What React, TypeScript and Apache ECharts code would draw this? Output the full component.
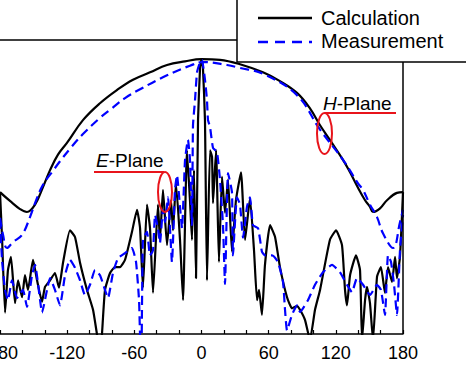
import React, { useEffect, useRef } from "react";
import * as echarts from "echarts";

// Angle in degrees, relative level in dB
const hPlaneCalc: number[][] = [
  [-180, -20.7], [-171.1, -21.9], [-162.1, -23.0], [-155.9, -23.4], [-148.7, -22.4],
  [-141.6, -20.0], [-135.3, -17.7], [-128.2, -15.6], [-120.2, -14.0], [-105.9, -10.9],
  [-90.7, -8.6], [-75.5, -6.8], [-61.2, -5.4], [-46.0, -4.4], [-30.8, -3.4],
  [-14.7, -2.9], [0, -2.6], [16.5, -2.7], [34.4, -3.3], [54.9, -4.4], [70.1, -5.6],
  [85.3, -7.2], [96.9, -9.3], [105.9, -11.6], [114.7, -13.6], [126.4, -16.3],
  [132.7, -18.0], [139.8, -20.1], [146.1, -21.8], [150.5, -22.7], [153.2, -23.4],
  [159.5, -22.9], [165.7, -21.8], [174.6, -20.8], [180, -20.7],
];

const hPlaneMeas: number[][] = [
  [-180, -24.2], [-177.3, -26.5], [-173.8, -28.3], [-168.4, -27.5], [-160.3, -26.5],
  [-153.2, -24.1], [-148.7, -22.2], [-141.6, -19.7], [-132.7, -17.8], [-126.4, -16.5],
  [-117.5, -14.8], [-105.9, -12.8], [-90.7, -10.6], [-81.7, -9.5], [-68.3, -7.9],
  [-54.9, -6.7], [-30.8, -4.8], [-10.3, -3.5], [1.3, -3.0], [22.8, -3.4], [34.4, -3.8],
  [54.9, -4.6], [85.3, -7.5], [105.9, -12.2], [126.4, -16.3], [139.8, -19.5],
  [144.3, -20.4], [150.5, -22.4], [156.8, -24.1], [162.1, -26.3], [171.1, -28.3],
  [177.3, -24.8], [180, -23.1],
];

const ePlaneCalc: number[][] = [
  [-180, -20.7], [-178.2, -26.8], [-175.5, -37.1], [-172.9, -31.3], [-170.2, -29.5],
  [-166.6, -35.8], [-163.9, -32.7], [-160.3, -35.0], [-157.7, -32.0], [-155.0, -34.0],
  [-150.5, -29.9], [-146.9, -32.7], [-142.5, -35.6], [-139.8, -33.6], [-135.3, -32.7],
  [-130.9, -31.7], [-127.3, -33.7], [-123.7, -30.3], [-117.5, -25.9], [-113.0, -26.8],
  [-108.5, -30.3], [-102.3, -34.0], [-96.9, -36.7], [-93.4, -40], [-91.6, -41.5],
  [-89.8, -41.5], [-88.9, -40], [-86.2, -34.0], [-81.7, -31.7], [-77.3, -30.9],
  [-72.8, -30.9], [-68.3, -29.9], [-62.1, -26.1], [-57.6, -23.1], [-54.9, -25.6],
  [-52.3, -33.7], [-48.7, -22.4], [-46.0, -25.6], [-43.3, -34.4], [-38.9, -22.4],
  [-37.1, -27.2], [-34.4, -20.4], [-30.8, -27.9], [-27.2, -21.8], [-25.5, -25.9],
  [-22.8, -19.5], [-19.2, -27.2], [-16.5, -35.4], [-13.0, -15.0], [-10.3, -21.8],
  [-8.5, -27.2], [-6.7, -17.7], [-4.9, -32.4], [-3.1, -10.9], [-1.3, -3.8], [0, -2.6],
  [1.3, -3.8], [3.1, -10.9], [4.9, -32.7], [7.6, -15.0], [9.4, -15.9], [10.3, -22.2],
  [13.0, -15.0], [15.6, -30.2], [18.3, -18.6], [21.0, -23.5], [23.7, -19.0],
  [27.2, -28.8], [30.8, -21.8], [35.3, -18.0], [38.9, -27.2], [43.3, -21.5],
  [46.9, -28.6], [49.6, -35.4], [51.4, -34.0], [54.0, -37.4], [56.7, -30.6],
  [61.2, -25.2], [65.7, -26.8], [70.1, -30.9], [76.4, -35.0], [80.8, -36.5],
  [85.3, -36.2], [88.0, -36.7], [92.5, -38.1], [96.9, -40.8], [101.4, -36.7],
  [105.9, -34.0], [114.7, -27.2], [120.2, -25.9], [125.5, -27.9], [128.2, -34.0],
  [130.0, -36.1], [132.7, -32.0], [138.0, -29.3], [141.6, -31.3], [143.4, -40.8],
  [146.1, -35.4], [147.8, -33.6], [150.5, -35.8], [153.2, -40.8], [156.8, -32.2],
  [160.3, -30.9], [163.9, -34.4], [166.6, -30.9], [170.2, -32.9], [172.9, -29.5],
  [174.6, -32.4], [177.3, -29.5], [180, -20.7],
];

const ePlaneMeas: number[][] = [
  [-180, -24.5], [-178.2, -29.9], [-175.5, -34.0], [-172.9, -35.4], [-169.3, -32.7],
  [-164.8, -35.1], [-159.5, -34.0], [-155.9, -36.3], [-151.4, -32.0], [-148.7, -30.6],
  [-144.2, -35.4], [-142.5, -37.1], [-138.0, -34.0], [-135.3, -32.4], [-130.9, -34.0],
  [-126.4, -36.1], [-121.9, -32.0], [-117.5, -29.9], [-113.0, -31.0], [-108.5, -32.7],
  [-104.1, -34.7], [-99.6, -33.3], [-95.1, -31.3], [-90.7, -32.0], [-86.2, -34.0],
  [-83.5, -35.1], [-79.1, -31.7], [-74.6, -29.7], [-68.3, -29.0], [-62.1, -28.3],
  [-58.5, -30.2], [-55.8, -35.4], [-54.5, -41.5], [-53.6, -41.5], [-52.3, -27.2],
  [-48.7, -26.1], [-46.0, -29.3], [-43.3, -28.6], [-41.5, -23.8], [-38.9, -25.6],
  [-37.1, -27.6], [-34.4, -23.1], [-32.6, -24.8], [-29.9, -21.4], [-26.4, -30.2],
  [-23.7, -20.4], [-21.9, -18.4], [-19.2, -22.7], [-17.4, -25.6], [-14.7, -16.3],
  [-12.1, -13.6], [-10.3, -16.3], [-8.5, -25.2], [-7.6, -11.6], [-5.8, -8.2],
  [-4.0, -4.4], [-1.3, -3.0], [0.4, -2.7], [3.1, -5.4], [4.9, -8.2], [5.8, -10.9],
  [7.6, -11.8], [10.3, -14.7], [13.8, -15.2], [16.5, -19.0], [19.2, -25.2],
  [21.0, -33.2], [23.7, -18.1], [27.2, -20.7], [28.1, -29.3], [31.7, -21.4],
  [34.4, -22.4], [37.1, -26.9], [40.6, -22.7], [43.3, -21.4], [46.0, -25.2],
  [50.5, -25.6], [54.0, -28.8], [56.7, -29.3], [63.0, -29.3], [68.3, -30.2],
  [72.8, -32.9], [74.6, -36.7], [76.4, -39.5], [80.8, -37.4], [85.3, -36.1],
  [88.0, -37.0], [95.1, -35.4], [101.4, -33.3], [108.5, -31.6], [116.6, -30.6],
  [123.7, -31.6], [130.0, -33.3], [134.4, -34.3], [138.9, -32.4], [144.3, -33.3],
  [150.5, -34.7], [156.8, -33.3], [160.3, -34.0], [163.9, -37.4], [166.6, -29.3],
  [169.3, -30.2], [172.0, -33.3], [174.6, -37.4], [177.3, -28.6], [180, -23.8],
];

const xLabelValues = [-180, -120, -60, 0, 60, 120, 180];
const legendNames = ["Calculation", "Measurement"];
const planeLabels = ["E-Plane", "H-Plane"];
const xAxisTitle = "Angle (Degree)";

const FONT = "'Liberation Sans', Arial, sans-serif";
const BLUE = "#0000ff";

export default function App() {
  const ref = useRef<HTMLDivElement>(null);
  useEffect(() => {
    if (!ref.current) return;
    const chart = echarts.init(ref.current, null, { renderer: "svg" });
    const richPlane = (label: string) => {
      const [first, ...rest] = label.split("-");
      return `{i|${first}}{n|-${rest.join("-")}}`;
    };
    const richStyles = {
      i: { fontStyle: "italic", fontSize: 19, fontFamily: FONT, fill: "#000", color: "#000" },
      n: { fontSize: 19, fontFamily: FONT, fill: "#000", color: "#000" },
    };
    chart.setOption({
      animation: false,
      grid: { left: 0, right: 63, top: 40, bottom: 46, containLabel: false, outerBoundsMode: "none" },
      xAxis: {
        type: "value",
        min: -180,
        max: 180,
        interval: 20,
        axisLine: { show: true, onZero: false, lineStyle: { color: "#000", width: 1.5 } },
        axisTick: { show: true, inside: true, length: 4, lineStyle: { color: "#000", width: 1.2 } },
        axisLabel: {
          show: true,
          margin: 10,
          color: "#000",
          fontSize: 18,
          fontFamily: FONT,
          hideOverlap: false,
          showMinLabel: true,
          showMaxLabel: true,
          formatter: (v: number) => (xLabelValues.includes(v) ? String(v) : ""),
        },
        splitLine: { show: false },
      },
      yAxis: {
        type: "value",
        min: -40,
        max: 0,
        show: false,
        splitLine: { show: false },
      },
      series: [
        {
          name: legendNames[0], type: "line", data: hPlaneCalc, showSymbol: false, symbol: "none",
          smooth: 0.4, clip: true, lineStyle: { color: "#000", width: 2.2 }, z: 2,
        },
        {
          name: legendNames[0], type: "line", data: ePlaneCalc, showSymbol: false, symbol: "none",
          smooth: 0.15, clip: true, lineStyle: { color: "#000", width: 2.2 }, z: 2,
        },
        {
          name: legendNames[1], type: "line", data: hPlaneMeas, showSymbol: false, symbol: "none",
          smooth: 0.4, clip: true, lineStyle: { color: BLUE, width: 2.2, type: [9, 5] }, z: 3,
        },
        {
          name: legendNames[1], type: "line", data: ePlaneMeas, showSymbol: false, symbol: "none",
          smooth: 0.15, clip: true, lineStyle: { color: BLUE, width: 2.2, type: [9, 5] }, z: 3,
        },
      ],
      graphic: [
        { type: "line", z: 10, shape: { x1: 0, y1: 40, x2: 403, y2: 40 }, style: { stroke: "#000", lineWidth: 1.5 } },
        { type: "line", z: 10, shape: { x1: 403, y1: 40, x2: 403, y2: 334 }, style: { stroke: "#000", lineWidth: 1.5 } },
        {
          type: "rect", z: 20, shape: { x: 237, y: -2, width: 240, height: 64 },
          style: { fill: "#fff", stroke: "#000", lineWidth: 1.5 },
        },
        { type: "line", z: 21, shape: { x1: 258, y1: 18, x2: 312, y2: 18 }, style: { stroke: "#000", lineWidth: 2.5 } },
        {
          type: "line", z: 21, shape: { x1: 258, y1: 42, x2: 312, y2: 42 },
          style: { stroke: BLUE, lineWidth: 2.5, lineDash: [10, 7] },
        },
        {
          type: "text", z: 21, x: 321, y: 18,
          style: { text: legendNames[0], fill: "#000", font: `20px ${FONT}`, textAlign: "left", verticalAlign: "middle" },
        },
        {
          type: "text", z: 21, x: 321, y: 41,
          style: { text: legendNames[1], fill: "#000", font: `20px ${FONT}`, textAlign: "left", verticalAlign: "middle" },
        },
        {
          type: "text", z: 21, x: 96, y: 160,
          style: { text: richPlane(planeLabels[0]), rich: richStyles, fill: "#000", fontSize: 19, fontFamily: FONT, textAlign: "left", verticalAlign: "middle" },
        },
        { type: "line", z: 21, shape: { x1: 94, y1: 172, x2: 164, y2: 172 }, style: { stroke: "#e8141b", lineWidth: 2 } },
        {
          type: "ellipse", z: 21, shape: { cx: 165, cy: 192, rx: 7, ry: 20 },
          style: { fill: "none", stroke: "#e8141b", lineWidth: 2 },
        },
        {
          type: "text", z: 21, x: 323, y: 103,
          style: { text: richPlane(planeLabels[1]), rich: richStyles, fill: "#000", fontSize: 19, fontFamily: FONT, textAlign: "left", verticalAlign: "middle" },
        },
        { type: "line", z: 21, shape: { x1: 325, y1: 113, x2: 396, y2: 113 }, style: { stroke: "#e8141b", lineWidth: 2 } },
        {
          type: "ellipse", z: 21, shape: { cx: 324.5, cy: 133.5, rx: 7.5, ry: 20.5 },
          style: { fill: "none", stroke: "#e8141b", lineWidth: 2 },
        },
        {
          type: "text", z: 21, x: 202, y: 388,
          style: { text: xAxisTitle, fill: "#000", font: `19px ${FONT}`, textAlign: "center", verticalAlign: "middle" },
        },
      ],
    });
    return () => chart.dispose();
  }, []);
  return (
    <div
      ref={ref}
      style={{ position: "absolute", left: 0, top: 0, width: 466, height: 380, background: "#fff" }}
    />
  );
}
